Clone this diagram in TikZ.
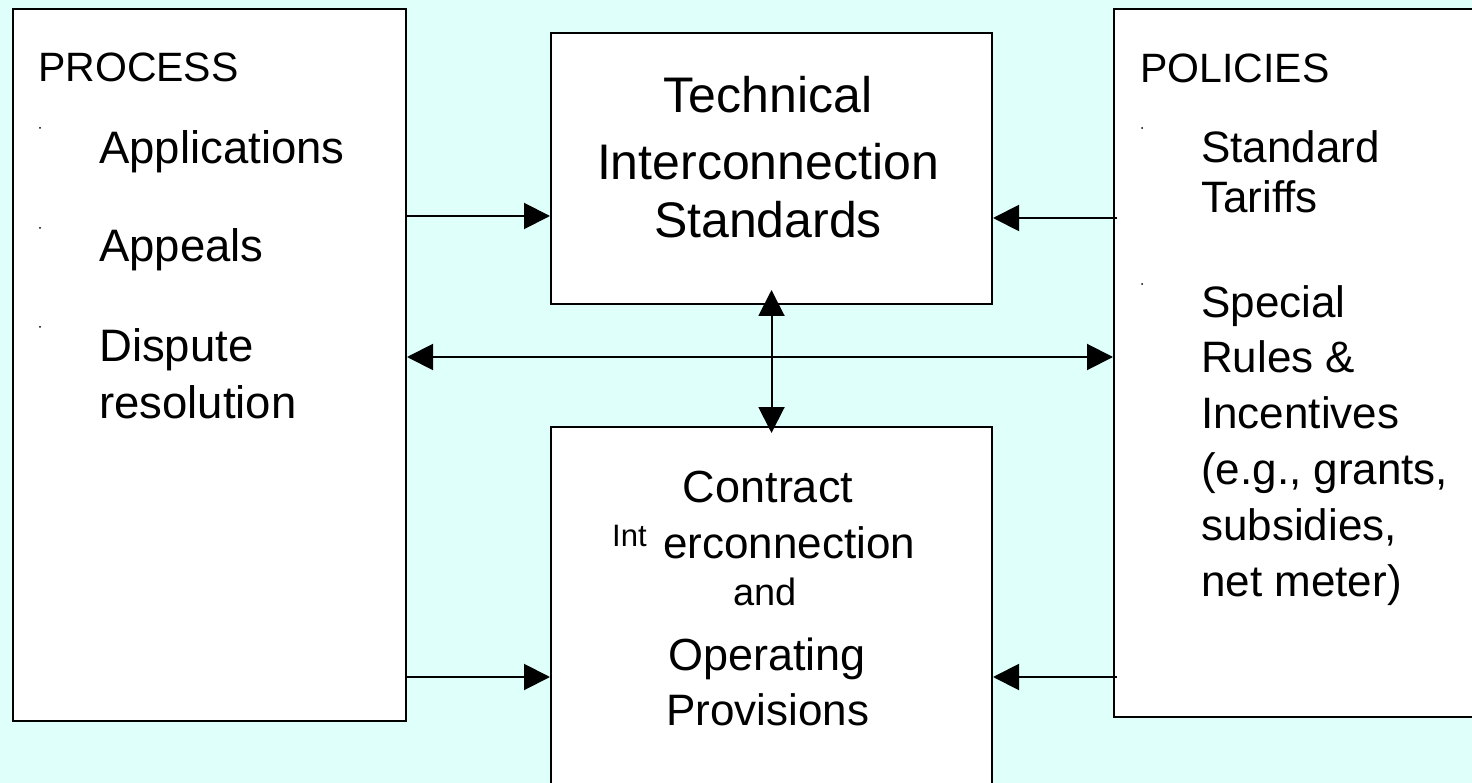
\documentclass[tikz,border=0pt]{standalone}
\usepackage{fontspec}
\setmainfont{Liberation Sans}
\usetikzlibrary{arrows.meta}
\definecolor{bgcyan}{HTML}{DEFFFA}
\newcommand{\fs}[1]{\fontsize{#1}{#1}\selectfont}
\begin{document}
\begin{tikzpicture}[x=1pt,y=-1pt,
  boxst/.style={draw=black,line width=2pt,fill=white,anchor=north west,inner sep=0pt,rectangle},
  txt/.style={inner sep=0pt,anchor=base west},
  ctxt/.style={inner sep=0pt,anchor=base},
  arr/.style={line width=2pt,-{Triangle[length=26pt,width=26pt]}},
  darr/.style={line width=2pt,{Triangle[length=26pt,width=26pt]}-{Triangle[length=26pt,width=26pt]}},
  dotst/.style={circle,fill=black,inner sep=0pt,minimum size=2pt}]
\clip (0,0) rectangle (1472,783);
\fill[bgcyan] (0,0) rectangle (1472,783);
% boxes
\node[boxst,minimum width=393pt,minimum height=712pt] (proc) at (12,8) {};
\node[boxst,minimum width=441pt,minimum height=271pt] (tech) at (550,32) {};
\node[boxst,minimum width=441pt,minimum height=380pt] (cont) at (550,426) {};
\node[boxst,minimum width=380pt,minimum height=708pt] (poli) at (1113,8) {};
% left text
\node[txt] (t1) at (38,82) {\fs{41}PROCESS};
\node[dotst] (d1) at (40,128) {};
\node[txt] (t2) at (99,164) {\fs{45.5}Applications};
\node[dotst] (d2) at (40,228) {};
\node[txt] (t3) at (99,262) {\fs{45.5}Appeals};
\node[dotst] (d3) at (40,327) {};
\node[txt] (t4) at (99,362) {\fs{45.5}Dispute};
\node[txt] (t5) at (99,418) {\fs{45.5}resolution};
% top middle text
\node[ctxt] (m1) at (768,113) {\fs{50}Technical};
\node[ctxt] (m2) at (768,180) {\fs{50}Interconnection};
\node[ctxt] (m3) at (768,238) {\fs{50}Standards};
% bottom middle text
\node[ctxt] (c1) at (768,502) {\fs{45}Contract};
\node[txt] (c2a) at (612,546) {\fs{31}Int};
\node[txt] (c2b) at (663,558) {\fs{44}erconnection};
\node[ctxt] (c3) at (765,605) {\fs{38}and};
\node[ctxt] (c4) at (767,670) {\fs{45}Operating};
\node[ctxt] (c5) at (768,725) {\fs{44}Provisions};
% right text
\node[txt] (p1) at (1140,83) {\fs{41}POLICIES};
\node[dotst] (e1) at (1142,128) {};
\node[txt] (p2) at (1201,163) {\fs{44}Standard};
\node[txt] (p3) at (1201,213) {\fs{44}Tariffs};
\node[dotst] (e2) at (1142,284) {};
\node[txt] (p4) at (1201,318) {\fs{44}Special};
\node[txt] (p5) at (1201,373) {\fs{44}Rules \&};
\node[txt] (p6) at (1201,428) {\fs{44}Incentives};
\node[txt] (p7) at (1201,484) {\fs{44}(e.g., grants,};
\node[txt] (p8) at (1201,540) {\fs{44}subsidies,};
\node[txt] (p9) at (1201,596) {\fs{44}net meter)};
% connector levels
\coordinate (ya) at (0,216);
\coordinate (yb) at (0,218);
\coordinate (yc) at (0,357);
\coordinate (yd) at (0,677);
% connectors
\draw[arr] (proc.east |- ya) -- (tech.west |- ya);
\draw[arr,shorten <=-4pt] (poli.west |- yb) -- (tech.east |- yb);
\draw[darr] (proc.east |- yc) -- (poli.west |- yc);
\draw[darr,shorten <=-15pt,shorten >=-7pt] (tech.south) -- (cont.north);
\draw[arr] (proc.east |- yd) -- (cont.west |- yd);
\draw[arr,shorten <=-4pt] (poli.west |- yd) -- (cont.east |- yd);
\end{tikzpicture}
\end{document}
